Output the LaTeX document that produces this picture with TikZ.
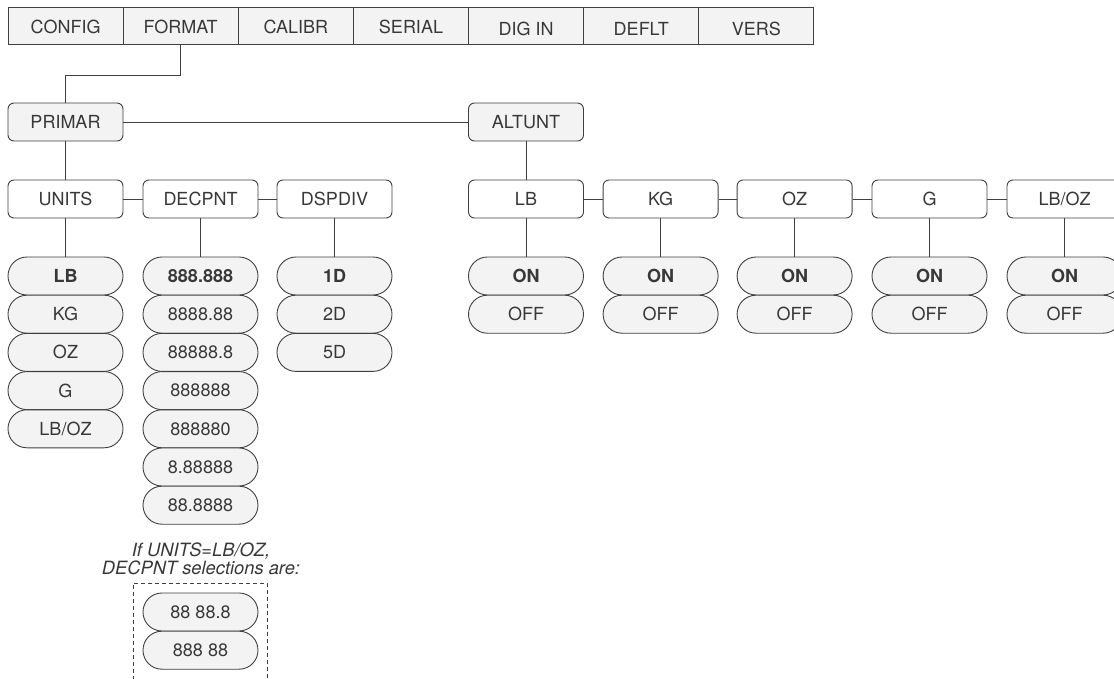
\documentclass[tikz,border=0pt]{standalone}
\usepackage{fontspec}
\setmainfont{TeX Gyre Heros}
\definecolor{linec}{HTML}{404040}
\definecolor{txtc}{HTML}{383838}
\definecolor{fillg}{HTML}{F3F3F3}
\tikzset{
  conn/.style={draw=linec, line width=0.9pt},
  menucell/.style={draw=linec, line width=1pt, fill=fillg, minimum width=115.14pt, minimum height=37pt, inner sep=0pt},
  lowtext/.style={text height=18.5pt, text depth=0pt},
  lvbox/.style={draw=linec, line width=0.9pt, fill=white, rounded corners=6pt, minimum width=115pt, minimum height=38pt, inner sep=0pt},
  lvboxg/.style={lvbox, fill=fillg},
  pill/.style={draw=linec, line width=0.9pt, fill=fillg, rounded corners=18.9pt, minimum width=115pt, minimum height=38pt, inner sep=0pt},
  dashbox/.style={draw=linec, line width=0.9pt, dash pattern=on 4pt off 3pt},
  note/.style={align=center, font=\fontsize{18.3}{14.5}\selectfont\itshape}
}
\begin{document}
\begin{tikzpicture}[x=1pt, y=-1pt, font=\fontsize{18}{18}\selectfont, text=txtc]
\useasboundingbox (0,0) rectangle (1114,679);
\clip (0,0) rectangle (1114,679);
% top menu
\node[menucell] (config) at (65.6,26.5) {CONFIG};
\node[menucell] (format) at (180.7,26.5) {FORMAT};
\node[menucell] (calibr) at (295.9,26.5) {CALIBR};
\node[menucell] (serial) at (411.0,26.5) {SERIAL};
\node[menucell, lowtext] (digin) at (526.1,26.5) {DIG IN};
\node[menucell, lowtext] (deflt) at (641.3,26.5) {DEFLT};
\node[menucell, lowtext] (vers) at (756.4,26.5) {VERS};
% level 1
\node[lvboxg] (primar) at (65.5,122) {PRIMAR};
\node[lvboxg] (altunt) at (526,122) {ALTUNT};
\draw[conn] (format.south) -- ++(0,30) -| (primar.north);
\draw[conn] (primar) -- (altunt);
% level 2
\node[lvbox] (units) at (65.5,199) {UNITS};
\node[lvbox] (decpnt) at (200.5,199) {DECPNT};
\node[lvbox] (dspdiv) at (334.5,199) {DSPDIV};
\node[lvbox] (lb) at (526,199) {LB};
\node[lvbox] (kg) at (660.6,199) {KG};
\node[lvbox] (oz) at (794.6,199) {OZ};
\node[lvbox] (g) at (929.5,199) {G};
\node[lvbox] (lboz) at (1064.5,199) {LB/OZ};
\draw[conn] (primar) -- (units);
\draw[conn] (altunt) -- (lb);
\draw[conn] (units) -- (decpnt);
\draw[conn] (decpnt) -- (dspdiv);
\draw[conn] (lb) -- (kg);
\draw[conn] (kg) -- (oz);
\draw[conn] (oz) -- (g);
\draw[conn] (g) -- (lboz);
% UNITS options
\node[pill] (u1) at (65.5,276) {\bfseries LB};
\node[pill] (u2) at (65.5,314.2) {KG};
\node[pill] (u3) at (65.5,352.4) {OZ};
\node[pill] (u4) at (65.5,390.6) {G};
\node[pill] (u5) at (65.5,428.8) {LB/OZ};
\draw[conn] (units) -- (u1);
% DECPNT options
\node[pill] (d1) at (200.5,276) {\bfseries 888.888};
\node[pill] (d2) at (200.5,314.2) {8888.88};
\node[pill] (d3) at (200.5,352.4) {88888.8};
\node[pill] (d4) at (200.5,390.6) {888888};
\node[pill] (d5) at (200.5,428.8) {888880};
\node[pill] (d6) at (200.5,467) {8.88888};
\node[pill] (d7) at (200.5,505.2) {88.8888};
\draw[conn] (decpnt) -- (d1);
% DSPDIV options
\node[pill] (s1) at (334.5,276) {\bfseries 1D};
\node[pill] (s2) at (334.5,314.2) {2D};
\node[pill] (s3) at (334.5,352.4) {5D};
\draw[conn] (dspdiv) -- (s1);
% ALTUNT options
\node[pill] (lbon) at (526,276) {\bfseries ON};
\node[pill] (lboff) at (526,314.2) {OFF};
\node[pill] (kgon) at (660.6,276) {\bfseries ON};
\node[pill] (kgoff) at (660.6,314.2) {OFF};
\node[pill] (ozon) at (794.6,276) {\bfseries ON};
\node[pill] (ozoff) at (794.6,314.2) {OFF};
\node[pill] (gon) at (929.5,276) {\bfseries ON};
\node[pill] (goff) at (929.5,314.2) {OFF};
\node[pill] (lbozon) at (1064.5,276) {\bfseries ON};
\node[pill] (lbozoff) at (1064.5,314.2) {OFF};
\draw[conn] (lb) -- (lbon);
\draw[conn] (kg) -- (kgon);
\draw[conn] (oz) -- (ozon);
\draw[conn] (g) -- (gon);
\draw[conn] (lboz) -- (lbozon);
% note
\node[note] (notetxt) at (201,559) {If UNITS=LB/OZ,\\DECPNT selections are:};
\coordinate (dBL) at (133,680);
\coordinate (dTL) at (133,583);
\coordinate (dTR) at (267,583);
\coordinate (dBR) at (267,680);
\draw[dashbox] (dBL) -- (dTL) -- (dTR) -- (dBR);
\node[pill] (x1) at (200.5,612) {88 88.8};
\node[pill] (x2) at (200.5,650.2) {888 88};
\end{tikzpicture}
\end{document}
